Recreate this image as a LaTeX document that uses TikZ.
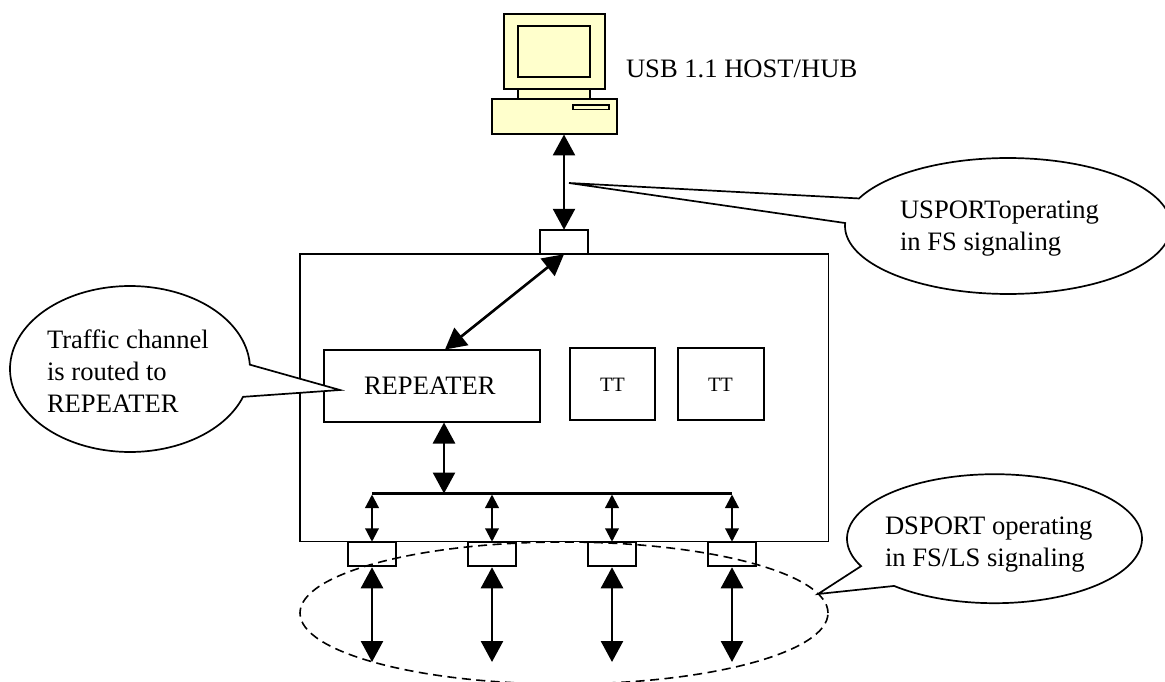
\documentclass[tikz,border=0pt]{standalone}
\usepackage{fontspec}
\setmainfont{Liberation Serif}
\usetikzlibrary{arrows.meta,shapes.geometric}
\definecolor{pc}{HTML}{FFFFCC}
\tikzset{
  boxn/.style={draw=black,line width=1.9pt,inner sep=0pt,outer sep=0pt,fill=white,font=\fontsize{26.6}{32}\selectfont},
  ttn/.style={boxn,font=\fontsize{20.4}{24}\selectfont},
  portn/.style={boxn,minimum width=48pt,minimum height=24.5pt},
  pcn/.style={draw=black,line width=1.9pt,fill=pc,inner sep=0pt,outer sep=0pt},
  lbl/.style={inner sep=0pt,outer sep=0pt,align=left,font=\fontsize{26.6}{32}\selectfont},
  bigarr/.style={line width=2.6pt,{Triangle[length=21pt,width=22pt]}-{Triangle[length=21pt,width=22pt]},shorten <=0pt,shorten >=0pt},
  smallarr/.style={line width=2.2pt,{Triangle[length=13.5pt,width=13.5pt]}-{Triangle[length=13.5pt,width=13.5pt]}},
  balloon/.style={draw=black,fill=white,line width=1.7pt,line join=miter},
}
\begin{document}
\begin{tikzpicture}[x=1pt,y=-1pt]
\clip (0,0) rectangle (1165,682);
% computer
\node[pcn,minimum width=101pt,minimum height=75pt] (mon) at (554.5,51.5) {};
\node[pcn,minimum width=72pt,minimum height=51pt] (scr) at (554,51.5) {};
\node[pcn,minimum width=72pt,minimum height=10pt] (neck) at (554,94) {};
\node[pcn,minimum width=125pt,minimum height=35pt] (host) at (554.5,116.5) {};
\node[pcn,minimum width=36pt,minimum height=4.5pt,line width=1.6pt] (slot) at (591,107.2) {};
% hub
\node[boxn,minimum width=528.5pt,minimum height=287.5pt] (hub) at (564.25,397.75) {};
\node[portn] (up) at (564,242) {};
\node[boxn,minimum width=216pt,minimum height=72pt] (rep) at (432,386) {};
\node[ttn,minimum width=85.5pt,minimum height=72.5pt] (t1) at (612.5,384) {};
\node[ttn,minimum width=85.5pt,minimum height=72.5pt] (t2) at (721,384) {};
\node[lbl,anchor=base west] (replbl) at (364,394) {REPEATER};
\node[lbl,anchor=base west,font=\fontsize{20.4}{24}\selectfont] (tl1) at (600,391) {TT};
\node[lbl,anchor=base west,font=\fontsize{20.4}{24}\selectfont] (tl2) at (708,391) {TT};
% bus
\coordinate (b0) at (444,493.5);
\coordinate (b1) at (372,493.5);
\coordinate (b2) at (492,493.5);
\coordinate (b3) at (612,493.5);
\coordinate (b4) at (732,493.5);
\draw[line width=2.7pt] (b1) -- (b4);
% ports
\node[portn] (p1) at (372,554) {};
\node[portn] (p2) at (492,554) {};
\node[portn] (p3) at (612,554) {};
\node[portn] (p4) at (732,554) {};
% connectors
\coordinate (repin) at (445,349.5);
\coordinate (repout) at (444,422.5);
\coordinate (e1) at (372,662);
\coordinate (e2) at (492,662);
\coordinate (e3) at (612,662);
\coordinate (e4) at (732,662);
\draw[bigarr] (host.south) ++(9.5,0.5) coordinate (hs) (hs) -- (up.north);
\draw[bigarr] (up.south) -- (repin);
\draw[bigarr] (repout) -- (b0);
\foreach \i in {1,2,3,4} {
  \draw[smallarr] (b\i) ++(0,1) coordinate (bb\i) (bb\i) -- (p\i.north);
  \draw[bigarr] (p\i.south) ++(0,1) coordinate (pp\i) (pp\i) -- (e\i);
}
% dashed zone
\node[draw=black,ellipse,inner sep=0pt,outer sep=0pt,line width=1.6pt,dash pattern=on 9pt off 5.5pt,minimum width=528pt,minimum height=142pt] (zone) at (564,613) {};
% balloons
\coordinate (tipL) at (340,390);
\coordinate (tipR) at (569,183);
\coordinate (tipD) at (818,594);
\draw[balloon] (tipL) -- plot[domain=19.6:357,samples=140] ({130+120*cos(\x)},{369+83*sin(\x)}) -- cycle;
\draw[balloon] (tipR) -- plot[domain=203.9:542.5,samples=140] ({1008+163*cos(\x)},{226+68*sin(\x)}) -- cycle;
\draw[balloon] (tipD) -- plot[domain=154.8:492.9,samples=140] ({994.5+147.5*cos(\x)},{538.7+64.5*sin(\x)}) -- cycle;
% labels
\node[lbl,anchor=base west] (usb) at (626,78) {USB 1.1 HOST/HUB};
\node[lbl,anchor=west] (ltraffic) at (47,371) {Traffic channel\\is routed to\\REPEATER};
\node[lbl,anchor=west] (luspt) at (900,228.2) {USPORToperating\\in FS signaling};
\node[lbl,anchor=west] (ldspt) at (885,544.6) {DSPORT operating\\in FS/LS signaling};
\end{tikzpicture}
\end{document}
